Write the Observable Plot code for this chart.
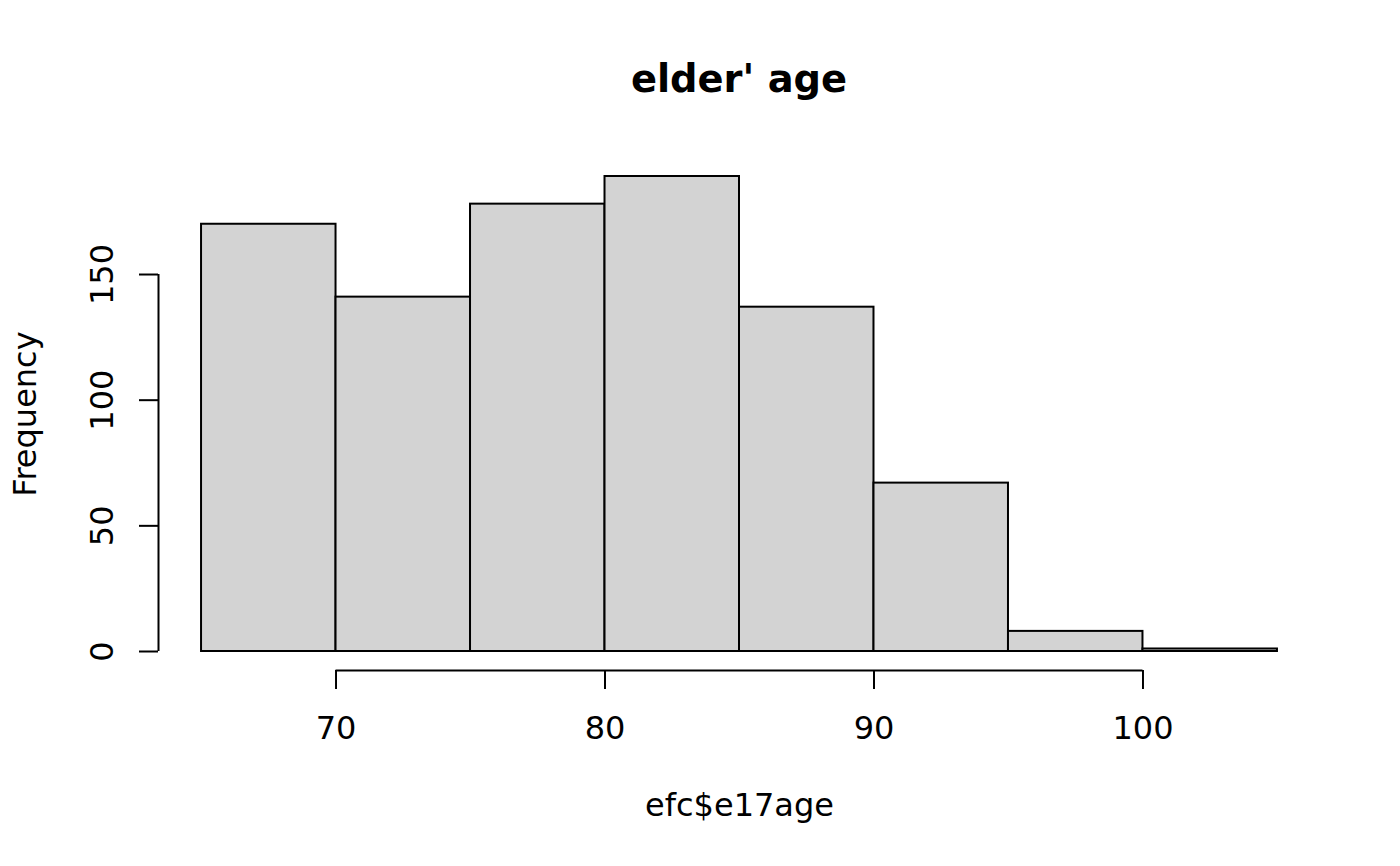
<!DOCTYPE html>
<html><head><meta charset="utf-8">
<script src="https://cdn.jsdelivr.net/npm/d3@7"></script>
<script src="https://cdn.jsdelivr.net/npm/@observablehq/plot@0.6"></script>
<style>
html,body{margin:0;padding:0;background:#fff;}
#title{height:130px;box-sizing:border-box;padding:59.5px 80px 0 158px;text-align:center;font:bold 38.4px/38.4px "DejaVu Sans";color:#000;white-space:nowrap;}
</style></head><body>
<div id="title">elder' age</div>
<div id="chart"></div>
<script>
const binStart = [65, 70, 75, 80, 85, 90, 95, 100];
const binEnd = [70, 75, 80, 85, 90, 95, 100, 105];
const frequency = [170, 141, 178, 189, 137, 67, 8, 1];
const xTicks = [70, 80, 90, 100];
const yTicks = [0, 50, 100, 150];
const xLabel = "efc$e17age";
const yLabel = "Frequency";

const bins = binStart.map((s, i) => ({x1: s, x2: binEnd[i], y: frequency[i]}));

// R-style 4% axis extension
const xr = [d3.min(binStart), d3.max(binEnd)];
const xPad = (xr[1] - xr[0]) * 0.04;
const xDomain = [xr[0] - xPad, xr[1] + xPad];
const yr = [0, d3.max(frequency)];
const yPad = (yr[1] - yr[0]) * 0.04;
const yDomain = [yr[0] - yPad, yr[1] + yPad];

const chart = Plot.plot({
  width: 1400,
  height: 736,
  marginTop: 27,
  marginBottom: 196,
  marginLeft: 158,
  marginRight: 80,
  style: {fontFamily: "DejaVu Sans", fontSize: "32px", color: "#000", background: "#fff"},
  x: {domain: xDomain},
  y: {domain: yDomain},
  marks: [
    Plot.rectY(bins, {x1: "x1", x2: "x2", y1: 0, y2: "y", fill: "#d3d3d3", stroke: "#000", strokeWidth: 2}),
    Plot.ruleX([xDomain[0]], {y1: d3.min(yTicks), y2: d3.max(yTicks), stroke: "#000", strokeWidth: 2}),
    Plot.ruleY([yDomain[0]], {x1: d3.min(xTicks), x2: d3.max(xTicks), stroke: "#000", strokeWidth: 2}),
    Plot.axisY({ticks: yTicks, anchor: "left", tickSize: 19, tickPadding: 27, tickRotate: -90, strokeWidth: 2,
      label: yLabel, labelAnchor: "center", labelOffset: 145.7, labelArrow: "none", fontSize: 32}),
    Plot.axisX({ticks: xTicks, anchor: "bottom", tickSize: 19, tickPadding: 26.3, strokeWidth: 2,
      label: xLabel, labelAnchor: "center", labelOffset: 145, labelArrow: "none", fontSize: 32})
  ]
});
document.getElementById("chart").appendChild(chart);
</script>
</body></html>
